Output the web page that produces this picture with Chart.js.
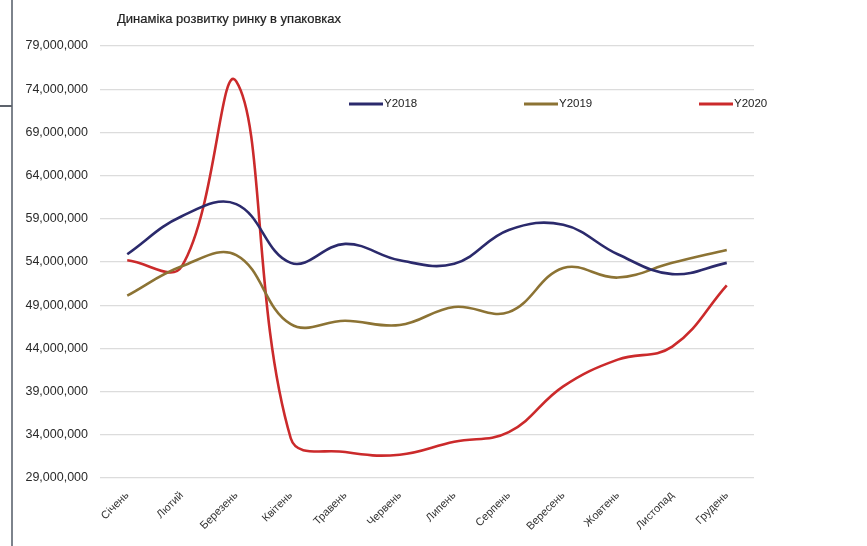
<!DOCTYPE html>
<html>
<head>
<meta charset="utf-8">
<script src="https://cdn.jsdelivr.net/npm/chart.js@4.4.1/dist/chart.umd.min.js"></script>
<style>
  html, body { margin: 0; padding: 0; background: #fff; }
  #wrap { position: relative; width: 867px; height: 546px; overflow: hidden; }
  #chart { position: absolute; left: 0; top: 0; }
  #title {
    position: absolute; left: 117px; top: 11px;
    font: 13px "Liberation Sans", Arial, sans-serif; color: #222;
    -webkit-text-stroke: 0.2px #222;
  }
  .edge-v { position: absolute; left: 11px; top: 0; width: 2px; height: 546px; background: #7d838c; }
  .edge-h { position: absolute; left: 0; top: 105px; width: 12px; height: 2px; background: #5d636c; }
</style>
</head>
<body>
<div id="wrap">
  <div class="edge-v"></div>
  <div class="edge-h"></div>
  <canvas id="chart" width="867" height="546"></canvas>
  <div id="title">Динаміка розвитку ринку в упаковках</div>
</div>
<script>
// months on the x axis
const months = ["Січень", "Лютий", "Березень", "Квітень", "Травень", "Червень",
  "Липень", "Серпень", "Вересень", "Жовтень", "Листопад", "Грудень"];

// values in packages
const y2018 = [54900000, 59300000, 60700000, 53900000, 56100000, 54200000,
  53800000, 57700000, 58300000, 54900000, 52600000, 53900000];
const y2019 = [50100000, 53500000, 54800000, 46800000, 47200000, 46700000,
  48800000, 48200000, 53300000, 52200000, 53900000, 55400000];
const y2020 = [54200000, 53500000, 74900000, 33600000, 32000000, 31700000,
  33200000, 34300000, 39600000, 42700000, 44200000, 51300000];

const seriesNames = ["Y2018", "Y2019", "Y2020"];
const seriesColors = ["#2b2a6c", "#8c7334", "#cb2a2b"];

const yMin = 29000000;
const yMax = 79000000;
const yStep = 5000000;

// legend drawn inside the plot area, spread across like the original
const insideLegend = {
  id: "insideLegend",
  afterDraw(chart) {
    const ctx = chart.ctx;
    const area = chart.chartArea;
    const y = area.top + 58;
    ctx.save();
    ctx.font = '11.5px "Liberation Sans", Arial, sans-serif';
    ctx.textBaseline = "middle";
    chart.data.datasets.forEach((ds, i) => {
      const x = area.left + 249 + i * 175;
      ctx.strokeStyle = ds.borderColor;
      ctx.lineWidth = 3;
      ctx.beginPath();
      ctx.moveTo(x, y);
      ctx.lineTo(x + 34, y);
      ctx.stroke();
      ctx.fillStyle = "#222";
      ctx.fillText(ds.label, x + 35, y);
    });
    ctx.restore();
  },
};

const allSeries = [y2018, y2019, y2020];

new Chart(document.getElementById("chart"), {
  type: "line",
  data: {
    labels: months,
    datasets: allSeries.map((vals, i) => ({
      label: seriesNames[i],
      data: vals,
      borderColor: seriesColors[i],
      backgroundColor: seriesColors[i],
      borderWidth: 2.6,
      pointRadius: 0,
      tension: 0.4,
      fill: false,
    })),
  },
  options: {
    responsive: false,
    animation: false,
    layout: { padding: { top: 46, right: 113, bottom: 0, left: 0 } },
    plugins: {
      legend: { display: false },
      tooltip: { enabled: false },
    },
    scales: {
      x: {
        offset: true,
        grid: { display: false },
        border: { display: false },
        ticks: {
          autoSkip: false,
          maxRotation: 45,
          minRotation: 45,
          color: "#333",
          font: { family: '"Liberation Sans", Arial, sans-serif', size: 11 },
          padding: 3,
        },
        afterFit(scale) { scale.height = 68; },
      },
      y: {
        min: yMin,
        max: yMax,
        grid: { color: "#dcdcdc", lineWidth: 1.2, drawTicks: false },
        border: { display: false },
        ticks: {
          stepSize: yStep,
          color: "#2a2a2a",
          padding: 12,
          font: { family: '"Liberation Sans", Arial, sans-serif', size: 12.5 },
          callback: (v) => v.toLocaleString("en-US"),
        },
        afterFit(scale) { scale.width = 100; },
      },
    },
  },
  plugins: [insideLegend],
});
</script>
</body>
</html>
